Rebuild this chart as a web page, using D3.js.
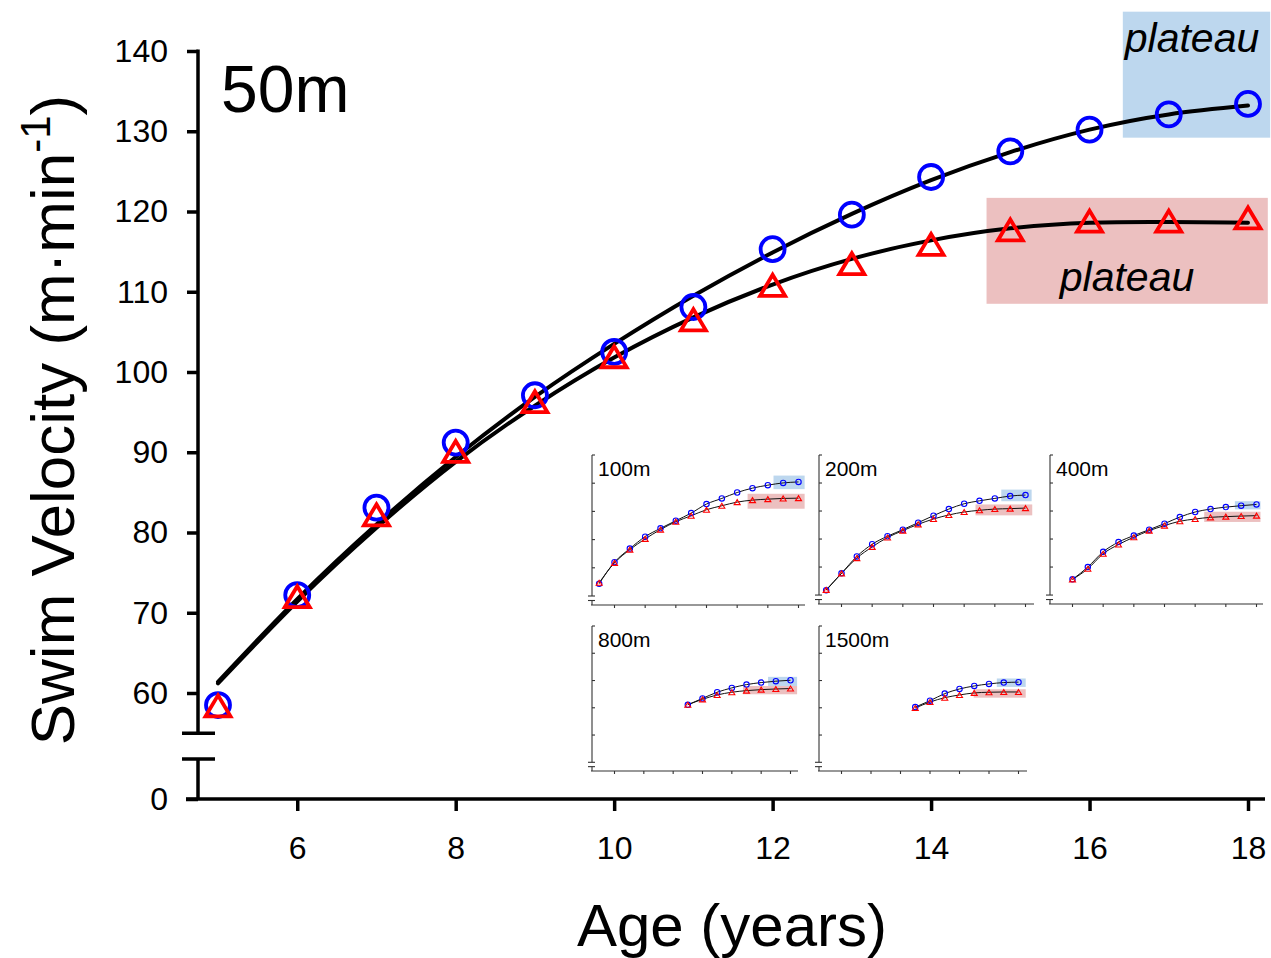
<!DOCTYPE html>
<html>
<head>
<meta charset="utf-8">
<script src="https://cdn.jsdelivr.net/npm/d3@7"></script>
<style>
body { margin: 0; background: #fff; }
svg { display: block; font-family: "Liberation Sans", Arial, sans-serif; }
</style>
</head>
<body>
<svg id="chart" width="1271" height="958"></svg>
<script>
// 50m (main panel)
let ages = [5, 6, 7, 8, 9, 10, 11, 12, 13, 14, 15, 16, 17, 18];
let blue50 = [58.5, 72.2, 83.1, 91.2, 97.1, 102.5, 108.1, 115.3, 119.6, 124.3, 127.5, 130.2, 132.1, 133.4];
let red50 = [58.4, 72.0, 82.2, 90.1, 96.3, 101.9, 106.5, 110.8, 113.5, 115.9, 117.7, 118.8, 118.8, 119.2];
let fitBlue50 = [61.4, 71.7, 81.0, 89.4, 96.9, 103.5, 109.5, 114.9, 119.7, 123.9, 127.4, 130.2, 132.1, 133.2];
let fitRed50 = [61.2, 71.4, 80.6, 88.8, 95.8, 101.8, 106.8, 110.9, 114.1, 116.4, 117.9, 118.6, 118.7, 118.6];
let yTicks = [60, 70, 80, 90, 100, 110, 120, 130, 140];
let xTicks = [6, 8, 10, 12, 14, 16, 18];
// plateau areas: [age from, age to, velocity low, velocity high]
let plateauBlue50 = [16.42, 18.28, 129.2, 144.9];
let plateauRed50 = [14.7, 18.25, 108.5, 121.7];

// insets
let ages400 = [6, 7, 8, 9, 10, 11, 12, 13, 14, 15, 16, 17, 18];
let agesLong = [11, 12, 13, 14, 15, 16, 17, 18];
let blue100 = [48.7, 64.0, 73.6, 82.1, 88.0, 93.4, 98.8, 105.2, 109.2, 113.4, 116.5, 118.6, 120.2, 120.9];
let red100 = [49.4, 63.5, 72.9, 80.5, 87.1, 92.7, 96.9, 101.2, 104.0, 106.6, 108.0, 108.7, 109.2, 109.4];
let blue200 = [43.4, 55.5, 67.6, 76.3, 82.0, 86.7, 91.7, 96.7, 101.4, 105.2, 107.3, 109.0, 110.7, 111.4];
let red200 = [43.7, 55.5, 66.4, 74.4, 81.1, 86.0, 90.5, 94.3, 97.2, 99.3, 100.5, 101.4, 101.7, 102.1];
let blue400 = [51.2, 60.0, 70.9, 77.8, 82.5, 86.7, 91.0, 95.7, 99.3, 101.4, 102.8, 103.8, 104.7];
let red400 = [51.2, 58.8, 69.5, 76.1, 81.3, 86.0, 89.6, 92.7, 94.3, 95.5, 96.0, 96.4, 96.7];
let blue800 = [82.2, 86.9, 91.4, 94.6, 97.0, 98.5, 99.5, 100.2];
let red800 = [82.2, 86.2, 89.4, 91.4, 92.6, 93.3, 93.8, 94.1];
let blue1500 = [80.5, 85.2, 90.4, 93.8, 96.0, 97.5, 98.5, 98.8];
let red1500 = [79.8, 84.2, 87.4, 89.4, 90.9, 91.4, 91.6, 91.6];
let insetYTicks = [60, 80, 100, 120, 140];

let insets = [
    { label: "100m", ages: ages, blue: blue100, red: red100,
      pBlue: [16.37, 18.4, 115.8, 125.4], pRed: [14.68, 18.4, 101.9, 112.5] },
    { label: "200m", ages: ages, blue: blue200, red: red200,
      pBlue: [16.42, 18.4, 107.0, 115.3], pRed: [14.74, 18.44, 96.9, 104.7] },
    { label: "400m", ages: ages400, blue: blue400, red: red400,
      pBlue: [16.59, 18.26, 101.2, 107.0], pRed: [14.59, 18.26, 92.2, 99.5] },
    { label: "800m", ages: agesLong, blue: blue800, red: red800,
      pBlue: [16.47, 18.45, 96.0, 102.7], pRed: [14.76, 18.45, 89.9, 96.0] },
    { label: "1500m", ages: agesLong, blue: blue1500, red: red1500,
      pBlue: [16.53, 18.49, 95.3, 101.5], pRed: [14.96, 18.49, 87.4, 93.6] }
];
// where each inset sits on the page
let insetBoxes = [
    { x0: 592, y0: 455, h: 150, w: 184, right: 213 },
    { x0: 819, y0: 455, h: 149, w: 184, right: 215 },
    { x0: 1050, y0: 455, h: 149, w: 184, right: 213 },
    { x0: 592, y0: 626, h: 145, w: 176, right: 206 },
    { x0: 819, y0: 626, h: 145, w: 177, right: 208 }
];

let blueCol = "#0000ff", redCol = "#ff0000";
let blueFill = "#bdd7ee", redFill = "#ecc0c0";

let svg = d3.select("#chart");

let x = d3.scaleLinear().domain([5, 18]).range([218, 1248]);
let y = d3.scaleLinear().domain([60, 140]).range([693, 51]);
let yLow = d3.scaleLinear().domain([0, 5]).range([799, 759]);

function triPath(w, h) {
    return "M0," + (-h / 2) + "L" + w + "," + (h / 2) + "L" + (-w) + "," + (h / 2) + "Z";
}

// plateau boxes
function plateau(p, fill) {
    svg.append("rect")
        .attr("x", x(p[0])).attr("width", x(p[1]) - x(p[0]))
        .attr("y", y(p[3])).attr("height", y(p[2]) - y(p[3]))
        .attr("fill", fill);
}
plateau(plateauBlue50, blueFill);
plateau(plateauRed50, redFill);

svg.append("text")
    .attr("x", 1192).attr("y", 52)
    .attr("text-anchor", "middle")
    .attr("font-size", 41).attr("font-style", "italic")
    .text("plateau");
svg.append("text")
    .attr("x", 1127).attr("y", 291)
    .attr("text-anchor", "middle")
    .attr("font-size", 41).attr("font-style", "italic")
    .text("plateau");

// Y axis (with break)
let yAxis = svg.append("g")
    .attr("transform", "translate(198,0)")
    .call(d3.axisLeft(y).tickValues(yTicks).tickSize(11).tickPadding(19).tickSizeOuter(0));
yAxis.select(".domain").remove();

let yAxisLow = svg.append("g")
    .attr("transform", "translate(198,0)")
    .call(d3.axisLeft(yLow).tickValues([0]).tickFormat(d3.format("d"))
        .tickSize(12).tickPadding(18).tickSizeOuter(0));
yAxisLow.select(".domain").remove();

let ax = svg.append("g").attr("stroke", "#000").attr("stroke-width", 3.5);
ax.append("line").attr("x1", 198).attr("x2", 198).attr("y1", y(140) - 1.5).attr("y2", y(55));
ax.append("line").attr("x1", 198).attr("x2", 198).attr("y1", yLow(5)).attr("y2", yLow(0));
ax.append("line").attr("x1", 182).attr("x2", 215).attr("y1", y(55)).attr("y2", y(55));
ax.append("line").attr("x1", 182).attr("x2", 215).attr("y1", yLow(5)).attr("y2", yLow(5));

// X axis
let xAxis = svg.append("g")
    .attr("transform", "translate(0,799)")
    .call(d3.axisBottom(x).tickValues(xTicks).tickSize(12).tickPadding(25).tickSizeOuter(0));
xAxis.select(".domain").remove();
ax.append("line").attr("x1", 186).attr("x2", 1265).attr("y1", 799).attr("y2", 799);

svg.selectAll(".tick line").attr("stroke", "#000").attr("stroke-width", 3.5);
svg.selectAll(".tick text")
    .attr("font-family", "Liberation Sans, Arial, sans-serif")
    .attr("font-size", 32).attr("fill", "#000");

// fit lines
let line = d3.line()
    .curve(d3.curveNatural)
    .x(function (d, i) { return x(ages[i]); })
    .y(function (d) { return y(d); });

[fitBlue50, fitRed50].forEach(function (f) {
    svg.append("path")
        .datum(f)
        .attr("d", line)
        .attr("fill", "none")
        .attr("stroke", "#000")
        .attr("stroke-width", 4)
        .attr("stroke-linecap", "round");
});

// markers
svg.append("g").selectAll("circle")
    .data(blue50)
    .join("circle")
    .attr("cx", function (d, i) { return x(ages[i]); })
    .attr("cy", function (d) { return y(d); })
    .attr("r", 12)
    .attr("fill", "none")
    .attr("stroke", blueCol)
    .attr("stroke-width", 3.8);

svg.append("g").selectAll("path")
    .data(red50)
    .join("path")
    .attr("transform", function (d, i) { return "translate(" + x(ages[i]) + "," + y(d) + ")"; })
    .attr("d", triPath(12.5, 21))
    .attr("fill", "none")
    .attr("stroke", redCol)
    .attr("stroke-width", 3.8);

// labels
svg.append("text")
    .attr("x", 221).attr("y", 112)
    .attr("font-size", 66)
    .text("50m");

let yTitle = svg.append("text")
    .attr("transform", "translate(74,420) rotate(-90)")
    .attr("text-anchor", "middle")
    .attr("font-size", 62);
yTitle.append("tspan").text("Swim Velocity (m\u00b7min");
yTitle.append("tspan").attr("font-size", 42).attr("dy", -24).text("-1");
yTitle.append("tspan").attr("dy", 24).text(")");

svg.append("text")
    .attr("x", 732).attr("y", 946)
    .attr("text-anchor", "middle")
    .attr("font-size", 60)
    .text("Age (years)");

// insets
insets.forEach(function (s, k) {
    let b = insetBoxes[k];
    let g = svg.append("g");
    let ix = d3.scaleLinear().domain([6, 18]).range([b.x0 + 22.5, b.x0 + 22.5 + b.w]);
    let iy = d3.scaleLinear().domain([60, 140]).range([b.y0 + 0.752 * b.h, b.y0]);

    [[s.pBlue, blueFill], [s.pRed, redFill]].forEach(function (pp) {
        let p = pp[0];
        g.append("rect")
            .attr("x", ix(p[0])).attr("width", ix(p[1]) - ix(p[0]))
            .attr("y", iy(p[3])).attr("height", iy(p[2]) - iy(p[3]))
            .attr("fill", pp[1]);
    });

    let a = g.append("g").attr("stroke", "#333").attr("stroke-width", 1.1);
    let yb1 = b.y0 + 0.94 * b.h, yb2 = b.y0 + 0.97 * b.h, yb = b.y0 + b.h;
    a.append("line").attr("x1", b.x0).attr("x2", b.x0).attr("y1", b.y0).attr("y2", yb1);
    a.append("line").attr("x1", b.x0).attr("x2", b.x0).attr("y1", yb2).attr("y2", yb);
    a.append("line").attr("x1", b.x0 - 4).attr("x2", b.x0 + 3).attr("y1", yb1).attr("y2", yb1);
    a.append("line").attr("x1", b.x0 - 4).attr("x2", b.x0 + 3).attr("y1", yb2).attr("y2", yb2);
    a.append("line").attr("x1", b.x0 - 1).attr("x2", b.x0 + b.right).attr("y1", yb).attr("y2", yb);
    a.selectAll(".yt").data(insetYTicks).join("line")
        .attr("x1", b.x0).attr("x2", b.x0 + 3)
        .attr("y1", function (d) { return iy(d); })
        .attr("y2", function (d) { return iy(d); });
    a.selectAll(".xt").data(xTicks).join("line")
        .attr("x1", function (d) { return ix(d); })
        .attr("x2", function (d) { return ix(d); })
        .attr("y1", yb).attr("y2", yb + 3);

    g.append("text")
        .attr("x", b.x0 + 6).attr("y", b.y0 + 21)
        .attr("font-size", 21)
        .text(s.label);

    let il = d3.line()
        .curve(d3.curveMonotoneX)
        .x(function (d, i) { return ix(s.ages[i]); })
        .y(function (d) { return iy(d); });
    [s.blue, s.red].forEach(function (v) {
        g.append("path").datum(v).attr("d", il)
            .attr("fill", "none").attr("stroke", "#111").attr("stroke-width", 1);
    });

    g.append("g").selectAll("circle").data(s.blue).join("circle")
        .attr("cx", function (d, i) { return ix(s.ages[i]); })
        .attr("cy", function (d) { return iy(d); })
        .attr("r", 2.7)
        .attr("fill", "none").attr("stroke", blueCol).attr("stroke-width", 1.1);
    g.append("g").selectAll("path").data(s.red).join("path")
        .attr("transform", function (d, i) { return "translate(" + ix(s.ages[i]) + "," + iy(d) + ")"; })
        .attr("d", triPath(3, 5))
        .attr("fill", "none").attr("stroke", redCol).attr("stroke-width", 1.1);
});
</script>
</body>
</html>
